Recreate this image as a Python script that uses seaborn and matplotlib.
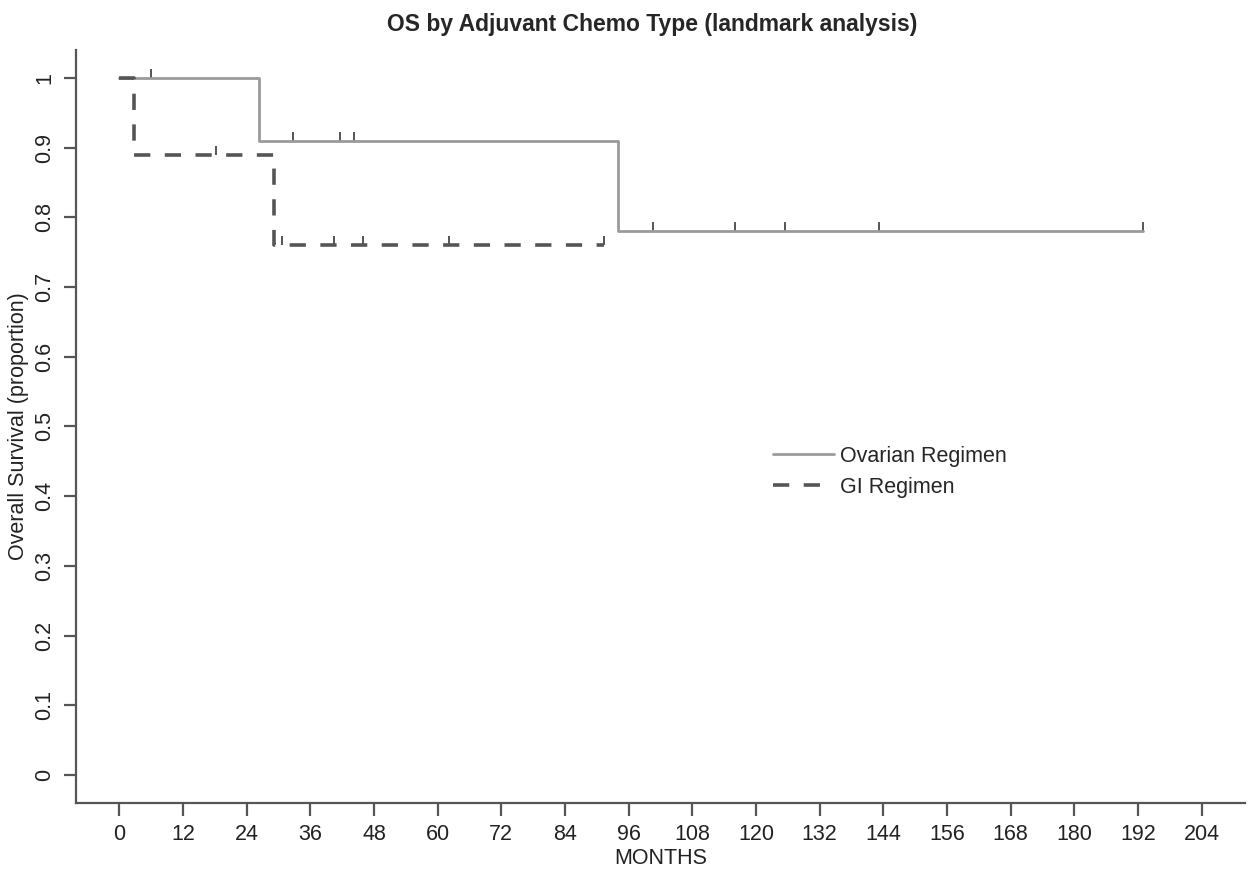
import numpy as np
import pandas as pd
import matplotlib
matplotlib.use("Agg")
import matplotlib.pyplot as plt
import seaborn as sns

# Kaplan-Meier step data
ovarian_times = [0, 26.4, 94.0, 193.0]
ovarian_surv = [1.0, 0.91, 0.78, 0.78]
ovarian_censor = [6.0, 32.8, 41.5, 44.3, 100.6, 116.1, 125.4, 143.1, 193.0]

gi_times = [0, 2.7, 29.2, 91.4]
gi_surv = [1.0, 0.89, 0.76, 0.76]
gi_censor = [18.3, 30.7, 40.4, 46.0, 62.2, 91.4]

x_ticks = list(range(0, 205, 12))
y_ticks = [0, 0.1, 0.2, 0.3, 0.4, 0.5, 0.6, 0.7, 0.8, 0.9, 1]
y_tick_labels = ["0", "0.1", "0.2", "0.3", "0.4", "0.5", "0.6", "0.7", "0.8", "0.9", "1"]

sns.set_style("ticks")
plt.rcParams['font.family'] = ['Liberation Sans', 'DejaVu Sans']

fig = plt.figure(figsize=(12.55, 8.8), dpi=100)
ax = fig.add_axes([0.0606, 0.0875, 0.9314, 0.8557])

ov_color = "#9a9a9a"
gi_color = "#555555"

sns.lineplot(x=ovarian_times, y=ovarian_surv, ax=ax, drawstyle="steps-post",
             estimator=None, sort=False, color=ov_color, lw=2.0, label="Ovarian Regimen")
sns.lineplot(x=gi_times, y=gi_surv, ax=ax, drawstyle="steps-post",
             estimator=None, sort=False, color=gi_color, lw=2.6, ls=(0, (4.5, 4)),
             label="GI Regimen")


# censor marks: survival value at each censor time
def step_value(times, surv, t):
    i = np.searchsorted(times, t, side="right") - 1
    return surv[i]


tick_marker = [(0, 0), (0, 1)]
ov_cy = [step_value(ovarian_times, ovarian_surv, t) for t in ovarian_censor]
gi_cy = [step_value(gi_times, gi_surv, t) for t in gi_censor]
sns.scatterplot(x=ovarian_censor, y=ov_cy, ax=ax, marker=tick_marker, s=170,
                color="#555555", edgecolor="#555555", linewidth=1.4, legend=False)
sns.scatterplot(x=gi_censor, y=gi_cy, ax=ax, marker=tick_marker, s=170,
                color="#555555", edgecolor="#555555", linewidth=1.4, legend=False)

ax.set_xlim(-8.16, 212.16)
ax.set_ylim(-0.04, 1.04)
ax.set_xticks(x_ticks)
ax.set_xticklabels([str(v) for v in x_ticks], fontsize=15.5)
ax.set_yticks(y_ticks)
ax.set_yticklabels(y_tick_labels, fontsize=15.5, rotation=90, va="center")

for side in ["top", "right"]:
    ax.spines[side].set_visible(False)
for side in ["left", "bottom"]:
    ax.spines[side].set_color("#555555")
    ax.spines[side].set_linewidth(1.6)
ax.tick_params(axis="both", length=9, width=1.6, color="#555555", labelcolor="#222222", pad=6)

ax.set_xlabel("MONTHS", fontsize=15.5, color="#222222", labelpad=2)
ax.set_ylabel("Overall Survival (proportion)", fontsize=15.5, color="#222222", labelpad=4)
fig.suptitle("OS by Adjuvant Chemo Type (landmark analysis)", fontsize=16.5,
             fontweight="bold", y=0.985, x=0.52)

ax.legend(loc="upper left", bbox_to_anchor=(0.58, 0.5), frameon=False, fontsize=15.5,
          handlelength=2.8, handletextpad=0.3, labelspacing=0.45)

plt.savefig("out.png", dpi=100)
